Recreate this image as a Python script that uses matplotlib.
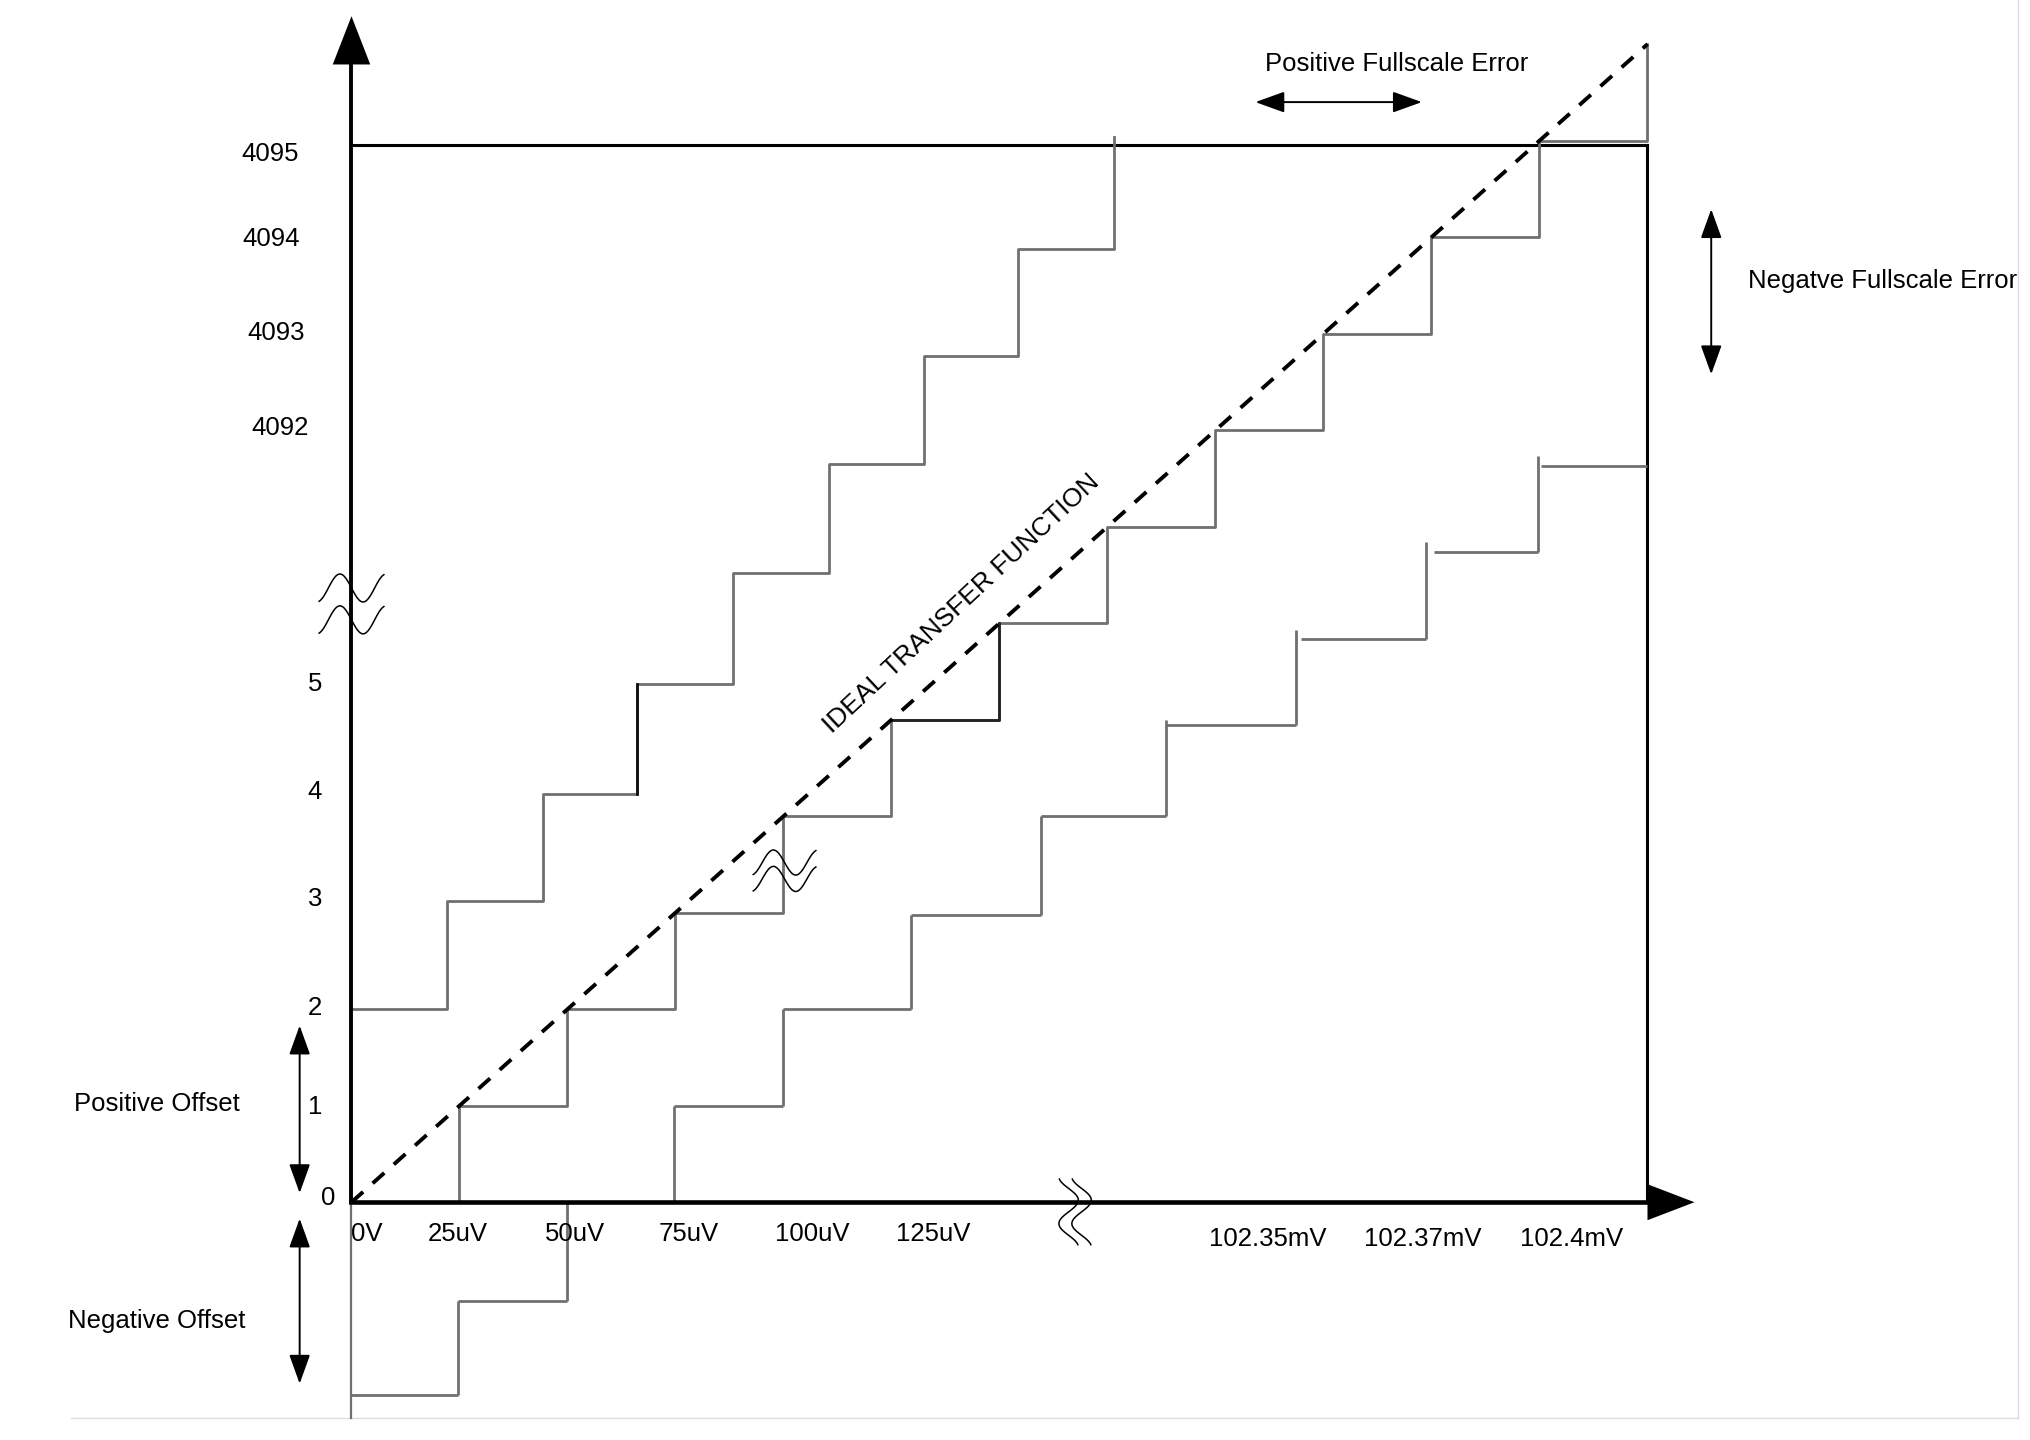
import numpy as np
import matplotlib
matplotlib.use("Agg")
from matplotlib import pyplot as plt

plt.rcParams['font.family'] = ['Liberation Sans', 'DejaVu Sans']

# units: x in LSB steps, y in output codes
ideal_x = [0, 1, 2, 3, 4, 5, 6, 7, 8, 9, 10, 11, 12]
ideal_y = [0, 1, 2, 3, 4, 5, 6, 7, 8, 9, 10, 11, 12]

# positive offset / gain error staircase
upper_rise_x = [0, 0.88, 1.77, 2.64, 3.53, 4.42, 5.30, 6.17, 7.06]
upper_level = [2.0, 3.12, 4.235, 5.37, 6.52, 7.645, 8.77, 9.875, 11.04]

# negative offset staircase (treads and risers drawn apart)
lower_tread_y = [-2.0, -1.02, 0.0, 1.0, 2.0, 2.98, 4.0, 4.95, 5.84, 6.74, 7.63]
lower_tread_l = [0.0, 0.99, 2.0, 2.99, 4.0, 5.18, 6.38, 7.54, 8.79, 10.02, 11.01]
lower_tread_r = [0.99, 2.0, 2.99, 4.0, 5.18, 6.38, 7.54, 8.75, 9.95, 10.99, 12.0]
lower_rise_x = [0.99, 2.0, 2.99, 4.0, 5.18, 6.38, 7.54, 8.75, 9.95, 10.99]
lower_rise_lo = [-2.0, -1.02, 0.0, 1.0, 2.0, 2.98, 4.0, 4.95, 5.84, 6.74]
lower_rise_hi = [-1.02, 0.0, 1.0, 2.0, 2.98, 4.0, 5.0, 5.93, 6.84, 7.73]

ytick_labels = ['0', '1', '2', '3', '4', '5', '4092', '4093', '4094', '4095']
ytick_y = [0.04, 0.99, 2.01, 3.14, 4.25, 5.37, 8.02, 9.01, 9.98, 10.86]
ytick_x = [-0.22, -0.34, -0.34, -0.34, -0.34, -0.34, -0.66, -0.70, -0.74, -0.75]

xtick_labels = ['0V', '25uV', '50uV', '75uV', '100uV', '125uV',
                '102.35mV', '102.37mV', '102.4mV']
xtick_x = [0.14, 0.98, 2.07, 3.12, 4.27, 5.39, 8.48, 9.92, 11.30]
xtick_y = [-0.33, -0.33, -0.33, -0.33, -0.33, -0.33, -0.38, -0.38, -0.38]

full_code = 10.96
full_x = 12.0

GRAY = '#707070'
FS = 18.5

fig = plt.figure(figsize=(20.3, 14.4), dpi=100)
ax = fig.add_axes([0, 0, 1, 1])
ax.set_xlim(-3.2546, 15.5417)
ax.set_ylim(-2.464, 12.458)
ax.axis('off')

# faint page border
ax.plot([-2.6, 15.43], [-2.24, -2.24], color='#dddddd', lw=1)
ax.plot([15.43, 15.43], [-2.24, 12.458], color='#dddddd', lw=1)

# frame of full scale
ax.plot([0, full_x], [full_code, full_code], color='black', lw=2.2)
ax.plot([full_x, full_x], [0, full_code], color='black', lw=2.2)

# ideal staircase
ax.step(ideal_x, ideal_y, where='post', color=GRAY, lw=2)
ax.plot([ideal_x[5], ideal_x[6], ideal_x[6]], [ideal_y[5], ideal_y[5], ideal_y[6]],
        color='#222222', lw=2)

# upper staircase
ux, uy = [], []
for i, lvl in enumerate(upper_level):
    ux.append(upper_rise_x[i])
    uy.append(lvl)
    nxt = upper_rise_x[i + 1] if i + 1 < len(upper_rise_x) else None
    if nxt is not None:
        ux.append(nxt)
        uy.append(lvl)
ax.plot(ux, uy, color=GRAY, lw=2)
ax.plot([upper_rise_x[3], upper_rise_x[3]], [upper_level[2], upper_level[3]],
        color='#111111', lw=2)

# lower staircase
ax.hlines(lower_tread_y, lower_tread_l, lower_tread_r, color=GRAY, lw=2)
ax.vlines(lower_rise_x, lower_rise_lo, lower_rise_hi, color=GRAY, lw=2)
ax.plot([0, 0], [-2.24, 0], color=GRAY, lw=1.6)

# ideal transfer function
ax.plot([ideal_x[0], ideal_x[-1]], [ideal_y[0], ideal_y[-1]], color='black',
        lw=2.8, dashes=(4, 3.3))
ax.text(5.65, 6.2, 'IDEAL TRANSFER FUNCTION', rotation=43, fontsize=19,
        ha='center', va='center', rotation_mode='anchor')

# axes with arrow heads
ax.plot([0, 0], [0, 11.8], color='black', lw=2.8)
ax.arrow(0, 11.79, 0, 0.5, width=0, head_width=0.347, head_length=0.5,
         length_includes_head=True, color='black', lw=0)
ax.plot([0, 12.0], [0, 0], color='black', lw=3.3)
ax.arrow(12.0, 0, 0.435, 0, width=0, head_width=0.373, head_length=0.435,
         length_includes_head=True, color='black', lw=0)

# tick labels
for lab, xx, yy in zip(ytick_labels, ytick_x, ytick_y):
    ax.text(xx, yy, lab, fontsize=FS, ha='center', va='center')
for lab, xx, yy in zip(xtick_labels, xtick_x, xtick_y):
    ax.text(xx, yy, lab, fontsize=FS, ha='center', va='center')


def double_arrow(p0, p1):
    ax.annotate('', xy=p1, xytext=p0,
                arrowprops=dict(arrowstyle='<|-|>,head_length=1.8,head_width=0.65',
                                mutation_scale=10, lw=1.4, color='black',
                                shrinkA=0, shrinkB=0))


double_arrow((-0.48, 0.095), (-0.48, 1.83))
double_arrow((-0.48, -1.88), (-0.48, -0.17))
double_arrow((8.37, 11.40), (9.91, 11.40))
double_arrow((12.59, 8.58), (12.59, 10.29))

ax.text(-1.80, 1.02, 'Positive Offset', fontsize=FS, ha='center', va='center')
ax.text(-1.80, -1.23, 'Negative Offset', fontsize=FS, ha='center', va='center')
ax.text(9.68, 11.79, 'Positive Fullscale Error', fontsize=FS, ha='center', va='center')
ax.text(12.93, 9.55, 'Negatve Fullscale Error', fontsize=FS, ha='left', va='center')


# break marks
def wave(cx, cy, half_w, amp, vertical=False):
    t = np.linspace(-0.2, 1.2, 80)
    along = (t - 0.5) / 1.4 * 2 * half_w
    across = amp * np.sin(2 * np.pi * t)
    if vertical:
        ax.plot(cx + across, cy - along, color='black', lw=1.1)
    else:
        ax.plot(cx + along, cy + across, color='black', lw=1.1)


wave(0.0, 6.365, 0.3, 0.145)
wave(0.0, 6.035, 0.3, 0.145)
wave(4.01, 3.52, 0.29, 0.13)
wave(4.01, 3.35, 0.29, 0.13)
wave(6.64, -0.1, 0.34, 0.09, vertical=True)
wave(6.76, -0.1, 0.34, 0.09, vertical=True)

fig.savefig('out.png', dpi=100)
